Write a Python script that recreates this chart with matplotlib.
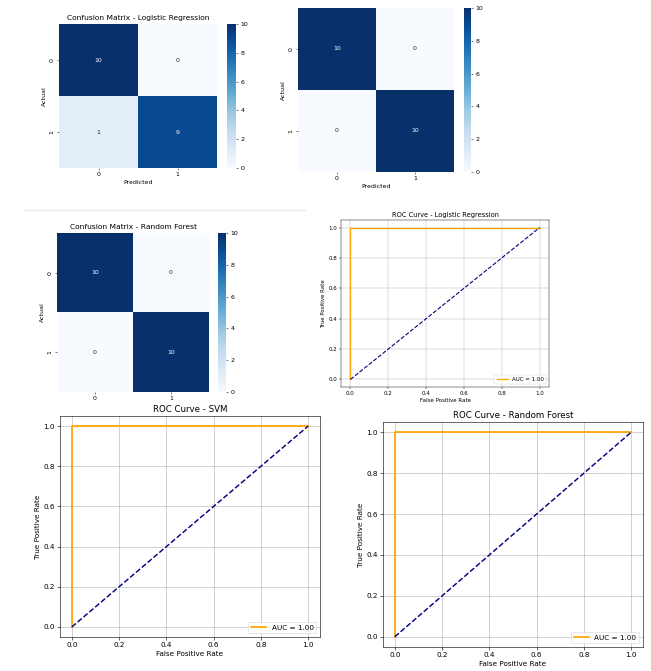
import numpy as np
import matplotlib.pyplot as plt
from matplotlib.lines import Line2D

# === data ===
class_labels = ["0", "1"]
cm_logreg = [[10, 0], [1, 9]]
cm_svm = [[10, 0], [0, 10]]
cm_forest = [[10, 0], [0, 10]]
cbar_ticks = [0, 2, 4, 6, 8, 10]

fpr = [0.0, 0.0, 1.0]
tpr = [0.0, 1.0, 1.0]
chance_x = [0.0, 1.0]
chance_y = [0.0, 1.0]
auc_label = "AUC = 1.00"

W, H = 651, 671
fig = plt.figure(figsize=(W / 100, H / 100), dpi=100)


def box(x0, y0, x1, y1):
    # pixel box (top-left origin) -> figure axes
    return fig.add_axes([x0 / W, 1 - y1 / H, (x1 - x0) / W, (y1 - y0) / H])


def draw_cm(ax_px, cax_px, cm, title, s, xlabel=True):
    cm = np.array(cm)
    ax = box(*ax_px)
    im = ax.imshow(cm, cmap="Blues", vmin=0, vmax=10, aspect="auto")
    for i in range(cm.shape[0]):
        for j in range(cm.shape[1]):
            v = cm[i, j]
            ax.text(j, i, str(v), ha="center", va="center", fontsize=10 * s,
                    color="white" if v > 5 else "#262626")
    ax.set_xticks([0, 1])
    ax.set_xticklabels(class_labels)
    ax.set_yticks([0, 1])
    ax.set_yticklabels(class_labels, rotation=90, va="center")
    ax.tick_params(labelsize=10 * s, length=3.5 * s, width=0.8 * s, pad=3.5 * s)
    for sp in ax.spines.values():
        sp.set_visible(False)
    if xlabel:
        ax.set_xlabel("Predicted", fontsize=10 * s, labelpad=4 * s)
    ax.set_ylabel("Actual", fontsize=10 * s, labelpad=4 * s)
    if title:
        ax.set_title(title, fontsize=12 * s, pad=6 * s)
    cax = box(*cax_px)
    cb = fig.colorbar(im, cax=cax)
    cb.outline.set_visible(False)
    cb.set_ticks(cbar_ticks)
    cax.tick_params(labelsize=10 * s, length=3.5 * s, width=0.8 * s, pad=3.5 * s)
    return ax


def draw_roc(ax_px, title, s):
    ax = box(*ax_px)
    ax.plot(fpr, tpr, color="orange", lw=2.4 * s, label=auc_label)
    ax.plot(chance_x, chance_y, color="navy", lw=2 * s, linestyle="--")
    ax.set_title(title, fontsize=12 * s, pad=6 * s)
    ax.set_xlabel("False Positive Rate", fontsize=10 * s, labelpad=4 * s)
    ax.set_ylabel("True Positive Rate", fontsize=10 * s, labelpad=4 * s)
    ax.tick_params(labelsize=10 * s, length=3.5 * s, width=0.8 * s, pad=3.5 * s)
    ax.grid(True, linewidth=0.8 * s)
    for sp in ax.spines.values():
        sp.set_linewidth(0.8 * s)
    leg = ax.legend(loc="lower right", fontsize=10 * s, handlelength=2, borderpad=0.4)
    leg.get_frame().set_linewidth(0.8 * s)
    return ax


# === confusion matrices ===
draw_cm((59, 24, 217, 168), (227, 24, 236, 168), cm_logreg,
        "Confusion Matrix - Logistic Regression", 0.45)
draw_cm((298, 8, 454, 172), (464, 8, 471, 172), cm_svm, None, 0.45)
draw_cm((57, 233, 209, 392), (218, 233, 226, 392), cm_forest,
        "Confusion Matrix - Random Forest", 0.45, xlabel=False)

# faint separator between screenshot pieces
fig.add_artist(Line2D([25 / W, 305 / W], [1 - 210 / H, 1 - 210 / H],
                      color="#ececec", lw=1.0))

# === ROC curves ===
draw_roc((341, 220, 549, 387), "ROC Curve - Logistic Regression", 0.40)
draw_roc((60, 416, 320, 637), "ROC Curve - SVM", 0.52)
draw_roc((383, 422, 643, 647), "ROC Curve - Random Forest", 0.52)

plt.savefig("out.png", dpi=100)
plt.close()
